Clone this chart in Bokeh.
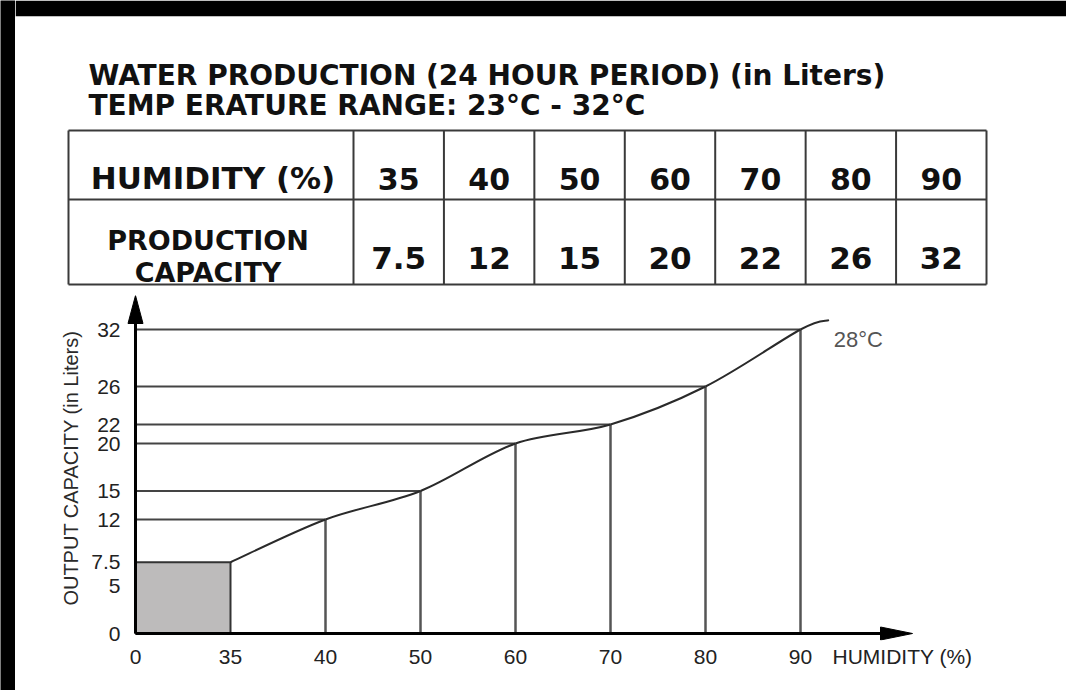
from bokeh.plotting import figure
from bokeh.layouts import row, column
from bokeh.models import Range1d, FixedTicker
from bokeh.core.properties import value
from bokeh.embed import file_html
from bokeh.resources import INLINE

# ---------------- data ----------------
TITLE_LINES = ["WATER PRODUCTION (24 HOUR PERIOD) (in Liters)",
               "TEMP ERATURE RANGE: 23°C - 32°C"]
HUMIDITY = [35, 40, 50, 60, 70, 80, 90]
CAPACITY = [7.5, 12, 15, 20, 22, 26, 32]
HEADER_HUMIDITY = "HUMIDITY (%)"
HEADER_CAPACITY = ["PRODUCTION", "CAPACITY"]
X_TICK_LABELS = ["0"] + [str(h) for h in HUMIDITY]
Y_TICKS = [0, 5, 7.5, 12, 15, 20, 22, 26, 32]
Y_TICK_LABELS = ["0", "5", "7.5", "12", "15", "20", "22", "26", "32"]
CURVE_LABEL = "28°C"
Y_AXIS_LABEL = "OUTPUT CAPACITY (in Liters)"
X_AXIS_LABEL = "HUMIDITY (%)"


def fmt(v):
    return str(int(v)) if float(v).is_integer() else str(v)


BOLD = value("DejaVu Sans")
REG = "Liberation Sans"
TOTAL_W, TOTAL_H = 1066, 690
STRIP_W = 15
TOP_H = 288
BOTTOM_STRIP_H = 2


def black_block(w, h):
    return figure(width=w, height=h, min_border=0, x_axis_type=None, y_axis_type=None,
                  toolbar_location=None, output_backend="svg", frame_align=False,
                  background_fill_color="black", border_fill_color="black",
                  outline_line_color=None)


strip = black_block(STRIP_W, TOTAL_H)
bottom_strip = black_block(TOTAL_W - STRIP_W, BOTTOM_STRIP_H)

# ---------------- top: title + table ----------------
top = figure(width=TOTAL_W - STRIP_W, height=TOP_H,
             x_range=Range1d(STRIP_W, TOTAL_W), y_range=Range1d(TOP_H, 16),
             x_axis_type=None, y_axis_type=None, toolbar_location=None, output_backend="svg",
             frame_align=False,
             min_border_left=0, min_border_right=0, min_border_top=16, min_border_bottom=0,
             border_fill_color="black", background_fill_color="white",
             outline_line_color=None)

top.text(x=[88, 88], y=[75, 105], text=TITLE_LINES, text_font=BOLD,
         text_font_style="bold", text_font_size="28px", text_color="#111111",
         text_baseline="alphabetic", text_align="left")

T_LEFT, T_SPLIT, T_RIGHT = 68, 353, 986
T_TOP, T_MID, T_BOTTOM = 130, 199, 284
n = len(HUMIDITY)
col_w = (T_RIGHT - T_SPLIT) / n
vx = [T_LEFT] + [T_SPLIT + k * col_w for k in range(n + 1)]
top.segment(x0=[T_LEFT] * 3, y0=[T_TOP, T_MID, T_BOTTOM], x1=[T_RIGHT] * 3,
            y1=[T_TOP, T_MID, T_BOTTOM], line_color="#3a3a3a", line_width=2)
top.segment(x0=vx, y0=[T_TOP] * len(vx), x1=vx, y1=[T_BOTTOM] * len(vx),
            line_color="#3a3a3a", line_width=2)

hdr_cx = (T_LEFT + T_SPLIT) / 2 + 2
top.text(x=[hdr_cx], y=[177], text=[HEADER_HUMIDITY], text_font=BOLD, text_font_style="bold",
         text_font_size="31px", text_color="#111111", text_align="center",
         text_baseline="alphabetic")
top.text(x=[hdr_cx - 5, hdr_cx - 5], y=[240, 272], text=HEADER_CAPACITY, text_font=BOLD,
         text_font_style="bold", text_font_size="27px", text_color="#111111",
         text_align="center", text_baseline="alphabetic")
cx = [T_SPLIT + (k + 0.5) * col_w for k in range(n)]
top.text(x=cx, y=[178] * n, text=[fmt(h) for h in HUMIDITY], text_font=BOLD,
         text_font_style="bold", text_font_size="30px", text_color="#111111",
         text_align="center", text_baseline="alphabetic")
top.text(x=cx, y=[257] * n, text=[fmt(c) for c in CAPACITY], text_font=BOLD,
         text_font_style="bold", text_font_size="31px", text_color="#111111",
         text_align="center", text_baseline="alphabetic")

# ---------------- bottom: chart ----------------
X_PX, Y_PX = 95.0, 9.5            # pixels per index step / per litre
ORIGIN_X, ORIGIN_Y = 135, 633      # page position of the origin
BOT_END = TOTAL_H - BOTTOM_STRIP_H
F_LEFT, F_RIGHT, F_TOP, F_BOTTOM = 126, 985, 295, 640
x_start = (F_LEFT - ORIGIN_X) / X_PX
x_end = (F_RIGHT - ORIGIN_X) / X_PX
y_start = (ORIGIN_Y - F_BOTTOM) / Y_PX
y_end = (ORIGIN_Y - F_TOP) / Y_PX

bot = figure(width=TOTAL_W - STRIP_W, height=BOT_END - TOP_H, x_range=Range1d(x_start, x_end),
             y_range=Range1d(y_start, y_end), toolbar_location=None, output_backend="svg",
             frame_align=False,
             min_border_left=F_LEFT - STRIP_W, min_border_right=TOTAL_W - F_RIGHT,
             min_border_top=F_TOP - TOP_H, min_border_bottom=BOT_END - F_BOTTOM,
             background_fill_color="white", border_fill_color="white",
             outline_line_color=None)
bot.xgrid.visible = False
bot.ygrid.visible = False

xt = list(range(len(X_TICK_LABELS)))
# the axis title sits on the tick-label line, right of the last tick
x_title_pos = (902 - ORIGIN_X) / X_PX
bot.xaxis.ticker = FixedTicker(ticks=xt + [x_title_pos])
overrides = {i: lab for i, lab in zip(xt, X_TICK_LABELS)}
overrides[x_title_pos] = X_AXIS_LABEL
bot.xaxis.major_label_overrides = overrides
bot.yaxis.ticker = FixedTicker(ticks=Y_TICKS)
bot.yaxis.major_label_overrides = {t: lab for t, lab in zip(Y_TICKS, Y_TICK_LABELS)}
for ax in (bot.xaxis, bot.yaxis):
    ax.axis_line_color = None
    ax.major_tick_line_color = None
    ax.minor_tick_line_color = None
    ax.major_label_text_font = REG
    ax.major_label_text_font_size = "21px"
    ax.major_label_text_color = "#222222"
bot.xaxis.major_label_standoff = -2
bot.yaxis.major_label_standoff = 0
bot.yaxis.axis_label = Y_AXIS_LABEL
bot.yaxis.axis_label_text_font = REG
bot.yaxis.axis_label_text_font_style = "normal"
bot.yaxis.axis_label_text_font_size = "20px"
bot.yaxis.axis_label_text_color = "#2a2a2a"
bot.yaxis.axis_label_standoff = 6

px = [i + 1 for i in range(len(HUMIDITY))]

# grey block under the first point
bot.quad(left=[0], right=[px[0]], bottom=[0], top=[CAPACITY[0]],
         fill_color="#bdbbbb", line_color="#333333", line_width=2)
# guide lines
bot.segment(x0=[0] * (n - 1), y0=CAPACITY[1:], x1=px[1:], y1=CAPACITY[1:],
            line_color="#444444", line_width=2)
bot.segment(x0=px[1:], y0=[0] * (n - 1), x1=px[1:], y1=CAPACITY[1:],
            line_color="#555555", line_width=2.5)

# smooth curve (Catmull-Rom as Bezier segments) with a short tail past the last point
TAIL_DX = 0.3
tail_y = CAPACITY[-1] + TAIL_DX * 0.55 * (CAPACITY[-1] - CAPACITY[-2])
P = list(zip(px + [px[-1] + TAIL_DX], CAPACITY + [tail_y]))
x0s, y0s, x1s, y1s, c0x, c0y, c1x, c1y = ([] for _ in range(8))
for i in range(len(P) - 1):
    p0 = P[i - 1] if i > 0 else P[i]
    p1, p2 = P[i], P[i + 1]
    p3 = P[i + 2] if i + 2 < len(P) else P[i + 1]
    x0s.append(p1[0]); y0s.append(p1[1]); x1s.append(p2[0]); y1s.append(p2[1])
    c0x.append(p1[0] + (p2[0] - p0[0]) / 6); c0y.append(p1[1] + (p2[1] - p0[1]) / 6)
    c1x.append(p2[0] - (p3[0] - p1[0]) / 6); c1y.append(p2[1] - (p3[1] - p1[1]) / 6)
bot.bezier(x0=x0s, y0=y0s, x1=x1s, y1=y1s, cx0=c0x, cy0=c0y, cx1=c1x, cy1=c1y,
           line_color="#2a2a2a", line_width=2)

bot.text(x=[P[-1][0] + 0.05], y=[CAPACITY[-1] - 1.0], text=[CURVE_LABEL],
         text_font=value(REG), text_font_size="22px", text_color="#555555",
         text_align="left", text_baseline="alphabetic")

# axes drawn as arrows
X_TIP = (912 - ORIGIN_X) / X_PX
bot.segment(x0=[0, 0], y0=[0, 0], x1=[0, X_TIP - 10 / X_PX], y1=[y_end - 10 / Y_PX, 0],
            line_color="black", line_width=3)
HL_Y, HW_Y = 28, 7.5
HL_X, HW_X = 32, 6.5
bot.patches(xs=[[-HW_Y / X_PX, 0, HW_Y / X_PX],
                [X_TIP - HL_X / X_PX, X_TIP, X_TIP - HL_X / X_PX]],
            ys=[[y_end - HL_Y / Y_PX, y_end, y_end - HL_Y / Y_PX],
                [HW_X / Y_PX, 0, -HW_X / Y_PX]],
            fill_color="black", line_color="black", line_width=1)

layout = row(strip, column(top, bot, bottom_strip))
open("out.html", "w").write(file_html(layout, INLINE))
